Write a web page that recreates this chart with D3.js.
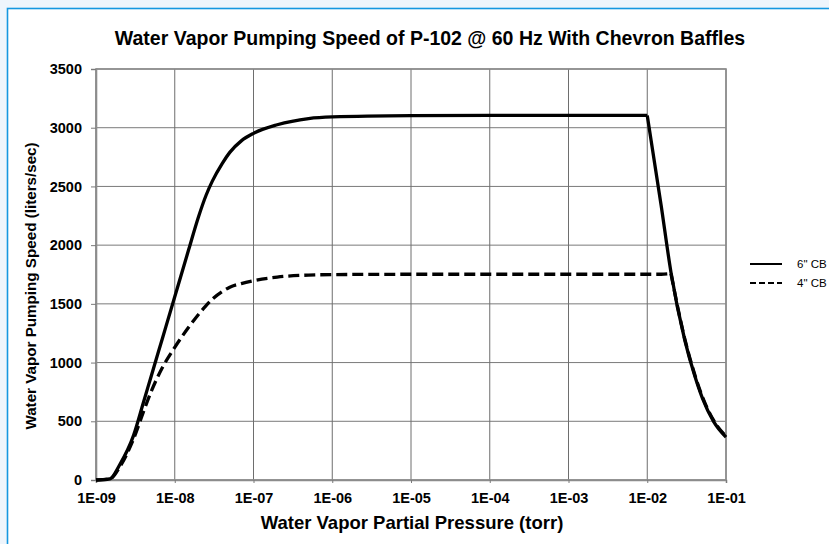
<!DOCTYPE html>
<html>
<head>
<meta charset="utf-8">
<script src="https://cdn.jsdelivr.net/npm/d3@7"></script>
<style>
  html, body { margin: 0; padding: 0; background: #eef5fc; }
  svg { display: block; }
  text { font-family: "Liberation Sans", Arial, sans-serif; }
</style>
</head>
<body>
<div id="chart"></div>
<script>
// pressures in torr
const pressures = [1e-9, 1.5e-9, 2e-9, 3e-9, 4e-9, 5e-9, 7e-9, 1e-8, 1.5e-8, 2e-8, 2.5e-8, 3e-8, 4e-8, 5e-8, 7e-8,
                   1e-7, 2e-7, 5e-7, 1e-6, 1e-5, 1e-4, 1e-3, 1e-2, 1.5e-2, 2e-2, 3e-2, 4e-2, 5e-2, 7e-2, 1e-1]
// 6" chevron baffle (liters/sec)
const speed6 = [0, 10, 130, 380, 660, 880, 1210, 1560, 1960, 2240, 2425, 2545, 2695, 2790, 2888,
                2952, 3025, 3078, 3092, 3103, 3105, 3105, 3105, 2340, 1770, 1190, 890, 700, 495, 365]
// 4" chevron baffle (liters/sec)
const speed4 = [0, 8, 110, 350, 580, 750, 960, 1130, 1300, 1410, 1485, 1540, 1605, 1642, 1673,
                1697, 1728, 1745, 1749, 1752, 1752, 1752, 1752, 1752, 1758, 1200, 900, 710, 505, 372]
// index where the curve breaks down sharply
const knee6 = 22
const knee4 = 24

const xTicks = [1e-9, 1e-8, 1e-7, 1e-6, 1e-5, 1e-4, 1e-3, 1e-2, 1e-1]
const xTickLabels = ["1E-09", "1E-08", "1E-07", "1E-06", "1E-05", "1E-04", "1E-03", "1E-02", "1E-01"]
const yTicks = [0, 500, 1000, 1500, 2000, 2500, 3000, 3500]

const series = [
    {name: '6" CB', values: speed6, knee: knee6, dash: null},
    {name: '4" CB', values: speed4, knee: knee4, dash: "11,5"}
]

const W = 829, H = 544
const plot = {left: 96, right: 726, top: 69, bottom: 480}

const svg = d3.select("#chart").append("svg")
    .attr("width", W)
    .attr("height", H)

// white panel with blue border
svg.append("rect")
   .attr("x", 7.5).attr("y", 8.5)
   .attr("width", W + 10).attr("height", H + 10)
   .attr("fill", "#fff")
   .attr("stroke", "#1597e0")
   .attr("stroke-width", 1.6)

const x = d3.scaleLog()
            .domain([1e-9, 1e-1])
            .range([plot.left, plot.right])

const y = d3.scaleLinear()
            .domain([0, 3500])
            .range([plot.bottom, plot.top])

// gridlines
svg.append("g")
   .selectAll("line")
   .data(yTicks)
   .join("line")
   .attr("x1", plot.left).attr("x2", plot.right)
   .attr("y1", d => y(d)).attr("y2", d => y(d))
   .attr("stroke", "#7a7a7a")
   .attr("stroke-width", 1)

svg.append("g")
   .selectAll("line")
   .data(xTicks)
   .join("line")
   .attr("x1", d => x(d)).attr("x2", d => x(d))
   .attr("y1", plot.top).attr("y2", plot.bottom)
   .attr("stroke", "#6e6e6e")
   .attr("stroke-width", 1)

// frame
svg.append("rect")
   .attr("x", plot.left).attr("y", plot.top)
   .attr("width", plot.right - plot.left)
   .attr("height", plot.bottom - plot.top)
   .attr("fill", "none")
   .attr("stroke", "#8c8c8c")
   .attr("stroke-width", 1.6)

// Y axis
const yAxis = svg.append("g")
   .attr("transform", `translate(${plot.left}, 0)`)
   .call(d3.axisLeft(y).tickValues(yTicks).tickSize(5).tickPadding(9).tickFormat(d3.format("d")))
yAxis.select(".domain").attr("stroke", "#8c8c8c").attr("stroke-width", 1.6)
yAxis.selectAll(".tick line").attr("stroke", "#7a7a7a")
yAxis.selectAll("text")
     .attr("font-size", 14.5).attr("font-weight", "bold").attr("fill", "#000")
     .attr("font-family", "Liberation Sans, Arial, sans-serif")

// X axis
const xAxis = svg.append("g")
   .attr("transform", `translate(0, ${plot.bottom})`)
   .call(d3.axisBottom(x).tickValues(xTicks).tickSize(3).tickPadding(10)
           .tickFormat((d, i) => xTickLabels[i]))
xAxis.select(".domain").attr("stroke", "#8c8c8c").attr("stroke-width", 1.6)
xAxis.selectAll(".tick line").attr("stroke", "#7a7a7a")
xAxis.selectAll("text")
     .attr("font-size", 14.5).attr("font-weight", "bold").attr("fill", "#000")
     .attr("font-family", "Liberation Sans, Arial, sans-serif")

// curves (split at the knee so the break stays sharp)
const line = d3.line()
               .x(d => x(d.p))
               .y(d => y(d.v))
               .curve(d3.curveMonotoneX)

series.forEach(s => {
    const pts = pressures.map((p, i) => ({p: p, v: s.values[i]}))
    const parts = [pts.slice(0, s.knee + 1), pts.slice(s.knee)]
    parts.forEach(part => {
        svg.append("path")
           .datum(part)
           .attr("d", line)
           .attr("fill", "none")
           .attr("stroke", "#000")
           .attr("stroke-width", 3.3)
           .attr("stroke-linejoin", "round")
           .attr("stroke-dasharray", s.dash)
    })
})

// title
svg.append("text")
   .attr("x", 430).attr("y", 45)
   .attr("text-anchor", "middle")
   .attr("font-size", 19.5).attr("font-weight", "bold")
   .text("Water Vapor Pumping Speed of P-102 @ 60 Hz With Chevron Baffles")

// axis titles
svg.append("text")
   .attr("x", 412).attr("y", 529)
   .attr("text-anchor", "middle")
   .attr("font-size", 18.5).attr("font-weight", "bold")
   .text("Water Vapor Partial Pressure (torr)")

svg.append("text")
   .attr("transform", "rotate(-90)")
   .attr("x", -286)
   .attr("y", 36)
   .attr("text-anchor", "middle")
   .attr("font-size", 15.2).attr("font-weight", "bold")
   .text("Water Vapor Pumping Speed (liters/sec)")

// legend
const legend = svg.append("g")
series.forEach((s, i) => {
    const ly = 264 + i * 19
    legend.append("line")
          .attr("x1", 750).attr("x2", 782)
          .attr("y1", ly).attr("y2", ly)
          .attr("stroke", "#000")
          .attr("stroke-width", 2)
          .attr("stroke-dasharray", s.dash ? "6,3" : null)
    legend.append("text")
          .attr("x", 797).attr("y", ly + 4)
          .attr("font-size", 11.5)
          .text(s.name)
})
</script>
</body>
</html>
